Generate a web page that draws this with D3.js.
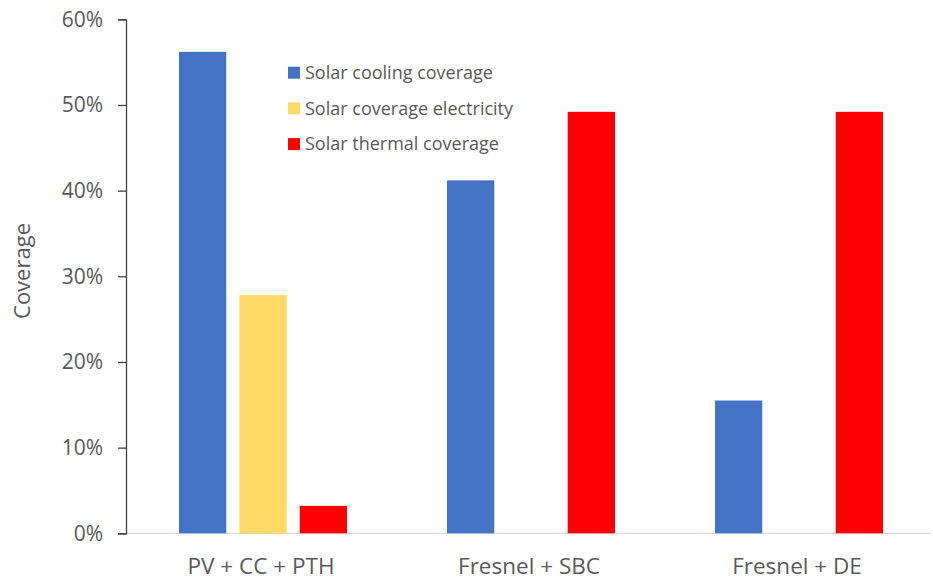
<!DOCTYPE html>
<html><head><meta charset="utf-8">
<script src="https://cdn.jsdelivr.net/npm/d3@7"></script>
<style>body{margin:0;background:#fff}svg{display:block}</style>
</head><body>
<svg id="c" width="933" height="582"></svg>
<script>
const categories = ["PV + CC + PTH", "Fresnel + SBC", "Fresnel + DE"];
const seriesNames = ["Solar cooling coverage", "Solar coverage electricity", "Solar thermal coverage"];
const coolingValues = [0.562, 0.412, 0.155];
const electricityValues = [0.278, null, null];
const thermalValues = [0.032, 0.492, 0.492];
const yTicks = [0, 0.1, 0.2, 0.3, 0.4, 0.5, 0.6];
const colors = ["#4472C4", "#FFD966", "#FF0000"];

const series = [coolingValues, electricityValues, thermalValues];
const svg = d3.select("#c");
const font = "'Open Sans', sans-serif";
const y = d3.scaleLinear().domain([0, 0.6]).range([533.3, 19.3]);
const x0 = d3.scaleBand().domain(categories).range([127, 931]).paddingInner(0).paddingOuter(0);
const x1 = d3.scaleBand().domain(d3.range(3)).range([52, 220]).paddingInner(0.217).paddingOuter(0);

// baseline
svg.append("line").attr("x1", 126).attr("x2", 931).attr("y1", y(0)).attr("y2", y(0))
  .attr("stroke", "#d9d9d9").attr("stroke-width", 1.3);

// bars
const g = svg.append("g");
categories.forEach((c, i) => {
  series.forEach((s, j) => {
    const v = s[i];
    if (v == null) return;
    g.append("rect")
      .attr("x", x0(c) + x1(j))
      .attr("width", x1.bandwidth())
      .attr("y", y(v))
      .attr("height", y(0) - y(v))
      .attr("fill", colors[j]);
  });
});

// y axis
const yAxis = d3.axisLeft(y).tickValues(yTicks).tickFormat(d3.format(".0%")).tickSize(8).tickPadding(15);
const ya = svg.append("g").attr("transform", "translate(126,0)").call(yAxis);
ya.select(".domain").attr("stroke", "#404040").attr("stroke-width", 1.3);
ya.selectAll(".tick line").attr("stroke", "#404040").attr("stroke-width", 1.3);
ya.selectAll("text").attr("font-family", font).attr("font-size", 21).attr("fill", "#595959");

// x labels
const xAxis = d3.axisBottom(x0).tickSize(0).tickPadding(25);
const xa = svg.append("g").attr("transform", `translate(0,${y(0)})`).call(xAxis);
xa.select(".domain").remove();
xa.selectAll("text").attr("font-family", font).attr("font-size", 22.5).attr("fill", "#595959");

// y title
svg.append("text").attr("transform", "translate(30,271) rotate(-90)")
  .attr("text-anchor", "middle").attr("font-family", font).attr("font-size", 22).attr("fill", "#595959")
  .text("Coverage");

// legend
const leg = svg.append("g");
seriesNames.forEach((n, j) => {
  const cy = 72.7 + j * 35.7;
  leg.append("rect").attr("x", 288).attr("y", cy - 6).attr("width", 12).attr("height", 12).attr("fill", colors[j]);
  leg.append("text").attr("x", 305).attr("y", cy).attr("dy", "0.35em")
    .attr("font-family", font).attr("font-size", 18).attr("fill", "#595959").text(n);
});
</script>
</body></html>
